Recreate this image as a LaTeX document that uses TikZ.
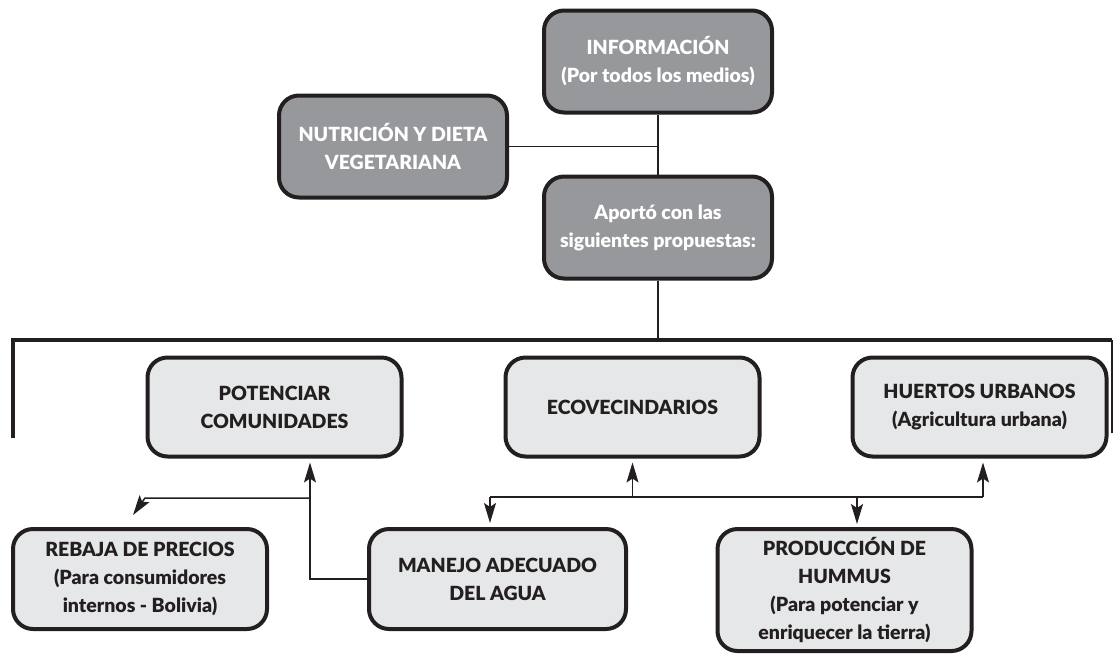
\documentclass[tikz,border=0pt]{standalone}
\usepackage{fontspec}
\setmainfont{Lato}[BoldFont={Lato Black}]
\usetikzlibrary{arrows.meta}
\definecolor{cajaosc}{HTML}{97989B}
\definecolor{cajacla}{HTML}{E6E7E8}
\definecolor{tinta}{HTML}{231F20}
\begin{document}
\begin{tikzpicture}[x=1pt,y=-1pt,
  caja/.style={draw=tinta,line width=4pt,rounded corners=20pt,align=center,
    font=\fontsize{19.5}{28}\selectfont\bfseries,inner sep=0pt},
  oscura/.style={caja,fill=cajaosc,text=white,minimum width=228pt,minimum height=102pt},
  clara/.style={caja,fill=cajacla,text=tinta,minimum width=254pt,minimum height=99pt},
  linea/.style={draw=tinta,line width=1.5pt},
  flecha/.style={linea,-{Stealth[length=20pt,width=12pt,inset=4pt]},shorten >=4pt}]
  \useasboundingbox(0,0)rectangle(1114,657);
  \node[oscura](info)at(658,61.5){INFORMACIÓN\\(Por todos los medios)};
  \node[oscura](nutri)at(393,146.5){NUTRICIÓN Y DIETA\\VEGETARIANA};
  \node[oscura](aporto)at(658,227.5){Aportó con las\\siguientes propuestas:};
  \node[clara](potenciar)at(274.5,407){POTENCIAR\\COMUNIDADES};
  \node[clara](eco)at(632.5,407){ECOVECINDARIOS};
  \node[clara](huertos)at(979.5,407){HUERTOS URBANOS\\(Agricultura urbana)};
  \node[clara,minimum height=100pt](rebaja)at(140,579){REBAJA DE PRECIOS\\(Para consumidores\\internos - Bolivia)};
  \node[clara,minimum width=257pt,minimum height=100pt](manejo)at(497.5,579){MANEJO ADECUADO\\DEL AGUA};
  \node[clara,minimum height=122pt](hummus)at(844.5,590){PRODUCCIÓN DE\\HUMMUS\\(Para potenciar y\\enriquecer la tierra)};
  \coordinate(busL)at(13,340);
  \coordinate(busR)at(1112,340);
  \coordinate(ramaP)at(310,498);
  \coordinate(ramaI)at(490,497);
  \coordinate(ramaD)at(983,497);
  \draw[linea](info)--(aporto);
  \draw[linea](nutri)--(nutri-|info);
  \draw[linea](aporto)--(aporto|-busL);
  \draw[draw=tinta,line width=4pt](busL)++(0,98)--(busL)--(busR);
  \draw[linea](busR)--++(0,93);
  \draw[flecha](manejo.west)-|(ramaP)--(ramaP|-potenciar.south);
  \draw[flecha,shorten >=0pt](ramaP)--++(-165,0)--++(-12,17);
  \draw[linea](ramaI)--(ramaD);
  \draw[flecha](ramaI)--(ramaI|-manejo.north);
  \draw[flecha](eco.south|-ramaI)--(eco.south);
  \draw[flecha](857,497)--(857,528);
  \draw[flecha](ramaD)--(ramaD|-huertos.south);
\end{tikzpicture}
\end{document}
